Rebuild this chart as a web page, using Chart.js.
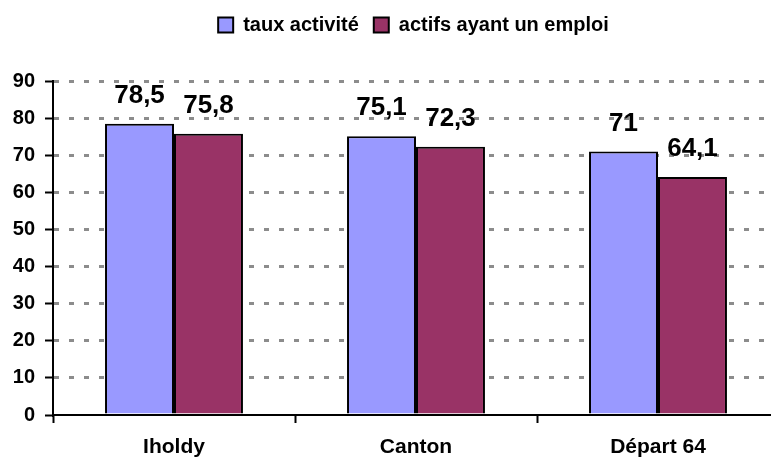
<!DOCTYPE html>
<html>
<head>
<meta charset="utf-8">
<script src="https://cdn.jsdelivr.net/npm/chart.js@4/dist/chart.umd.min.js"></script>
<style>
  html, body { margin: 0; padding: 0; background: #fff; overflow: hidden; }
  #wrap { width: 780px; height: 457px; }
</style>
</head>
<body>
<div id="wrap"><canvas id="emploi"></canvas></div>
<script>
const categories = ['Iholdy', 'Canton', 'Départ 64'];
const tauxActivite = [78.5, 75.1, 71];
const actifsEmploi = [75.8, 72.3, 64.1];
const yTicks = [0, 10, 20, 30, 40, 50, 60, 70, 80, 90];

const FONT = '"Liberation Sans", Arial, sans-serif';

// value labels above bars, french decimal comma
const barLabels = {
  id: 'barLabels',
  beforeInit(chart) {
    // push the plot down under the legend
    const fit = chart.legend.fit;
    chart.legend.fit = function () {
      fit.call(this);
      this.height = 81;
    };
  },
  afterLayout(chart) {
    // legend sits centred over the plot, not the canvas
    chart.legend.left += 48;
  },
  afterDatasetsDraw(chart) {
    const ctx = chart.ctx;
    ctx.save();
    ctx.font = 'bold 26px ' + FONT;
    ctx.fillStyle = '#000';
    ctx.textAlign = 'center';
    ctx.textBaseline = 'alphabetic';
    chart.data.datasets.forEach((ds, i) => {
      chart.getDatasetMeta(i).data.forEach((bar, j) => {
        const txt = String(ds.data[j]).replace('.', ',');
        ctx.fillText(txt, bar.x, bar.y - 21);
      });
    });
    ctx.restore();
  }
};

new Chart("emploi", {
  type: 'bar',
  data: {
    labels: categories,
    datasets: [{
      label: 'taux activité',
      data: tauxActivite,
      backgroundColor: '#9999ff',
      borderColor: '#000',
      borderWidth: 2,
      borderSkipped: 'bottom'
    }, {
      label: 'actifs ayant un emploi',
      data: actifsEmploi,
      backgroundColor: '#993366',
      borderColor: '#000',
      borderWidth: 2,
      borderSkipped: 'bottom'
    }]
  },
  options: {
    responsive: true,
    maintainAspectRatio: false,
    animation: false,
    layout: { padding: { top: 0, left: 0, right: 1, bottom: 0 } },
    datasets: { bar: { barPercentage: 1, categoryPercentage: 0.57 } },
    plugins: {
      legend: {
        position: 'top',
        labels: {
          boxWidth: 15,
          boxHeight: 15,
          padding: 15,
          color: '#000',
          font: { family: FONT, size: 20, weight: 'bold' }
        }
      },
      tooltip: { enabled: false }
    },
    scales: {
      x: {
        afterFit(scale) { scale.height = 42; },
        grid: {
          display: true,
          drawOnChartArea: false,
          offset: true,
          tickLength: 8,
          tickColor: '#000',
          tickWidth: 2
        },
        border: { color: '#000', width: 2 },
        ticks: {
          color: '#000',
          padding: 12,
          font: { family: FONT, size: 21, weight: 'bold' }
        }
      },
      y: {
        min: 0,
        max: 90,
        afterBuildTicks(axis) { axis.ticks = yTicks.map(v => ({ value: v })); },
        afterFit(scale) { scale.width = 53; },
        grid: {
          color: (c) => c.tick && c.tick.value === 0 ? 'rgba(0,0,0,0)' : '#8c8c8c',
          lineWidth: 3,
          tickLength: 8,
          tickColor: '#000',
          tickWidth: 2,
          tickBorderDash: []
        },
        border: { color: '#000', width: 2, dash: [5, 10] },
        ticks: {
          color: '#000',
          padding: 10,
          font: { family: FONT, size: 20, weight: 'bold' }
        }
      }
    }
  },
  plugins: [barLabels]
});
</script>
</body>
</html>
